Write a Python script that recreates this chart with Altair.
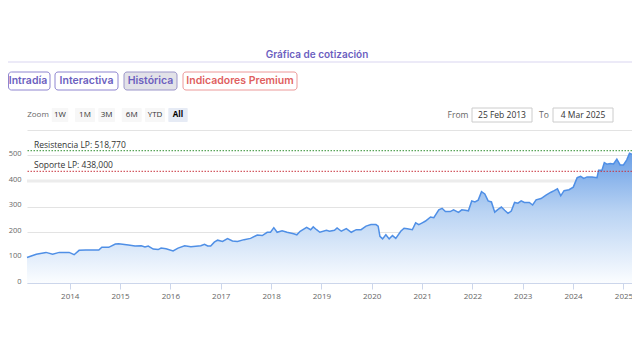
import altair as alt
import pandas as pd

# ---------------- data ----------------
dates = [
    "2013-02-25", "2013-05-03", "2013-07-13", "2013-08-30", "2013-10-17", "2013-12-28",
    "2014-02-02", "2014-03-10", "2014-04-27", "2014-07-31", "2014-08-22", "2014-10-11",
    "2014-11-28", "2014-12-22", "2015-03-03", "2015-04-20", "2015-06-04", "2015-07-01",
    "2015-07-25", "2015-08-30", "2015-10-05", "2015-10-26", "2015-12-01", "2016-01-21",
    "2016-02-26", "2016-04-14", "2016-05-29", "2016-08-09", "2016-09-05", "2016-09-28",
    "2016-10-20", "2016-11-15", "2016-12-09", "2017-01-14", "2017-02-19", "2017-03-27",
    "2017-05-02", "2017-06-19", "2017-08-05", "2017-09-23", "2017-10-29", "2017-12-04",
    "2017-12-28", "2018-01-21", "2018-02-14", "2018-03-22", "2018-04-27", "2018-06-14",
    "2018-07-07", "2018-07-31", "2018-09-16", "2018-10-15", "2018-11-03", "2018-11-27",
    "2018-12-21", "2019-02-07", "2019-03-01", "2019-04-06", "2019-04-25", "2019-05-26",
    "2019-07-01", "2019-08-06", "2019-09-11", "2019-10-16", "2019-11-21", "2019-12-27",
    "2020-02-01", "2020-02-17", "2020-03-01", "2020-03-20", "2020-04-13", "2020-05-07",
    "2020-05-31", "2020-06-24", "2020-07-30", "2020-08-23", "2020-09-16", "2020-10-22",
    "2020-11-15", "2020-12-08", "2021-01-02", "2021-01-26", "2021-03-03", "2021-03-27",
    "2021-05-02", "2021-05-26", "2021-06-19", "2021-07-24", "2021-08-17", "2021-09-22",
    "2021-10-16", "2021-11-09", "2021-12-03", "2021-12-27", "2022-01-19", "2022-02-12",
    "2022-03-08", "2022-04-01", "2022-04-25", "2022-05-19", "2022-06-12", "2022-07-06",
    "2022-07-30", "2022-08-23", "2022-09-16", "2022-10-10", "2022-11-03", "2022-11-27",
    "2022-12-21", "2023-01-13", "2023-02-18", "2023-03-14", "2023-04-08", "2023-05-14",
    "2023-06-19", "2023-07-25", "2023-08-17", "2023-09-10", "2023-10-04", "2023-10-28",
    "2023-12-03", "2024-01-03", "2024-01-31", "2024-02-25", "2024-03-19", "2024-04-12",
    "2024-05-18", "2024-06-23", "2024-07-05", "2024-07-29", "2024-08-15", "2024-09-03",
    "2024-09-27", "2024-10-21", "2024-11-14", "2024-12-08", "2025-01-01", "2025-01-25",
    "2025-02-14", "2025-03-04",
]
prices = [
    100, 113, 120, 113, 120, 120,
    111, 128, 129, 129, 140, 140,
    153, 154, 149, 145, 146, 141,
    145, 133, 131, 137, 134, 126,
    137, 146, 142, 146, 152, 145,
    145, 160, 168, 163, 174, 165,
    163, 170, 175, 188, 186, 199,
    199, 217, 199, 205, 199, 193,
    189, 203, 218, 209, 220, 209,
    199, 207, 203, 207, 216, 203,
    213, 199, 209, 209, 223, 229,
    229, 223, 183, 173, 189, 173,
    186, 175, 203, 215, 213, 209,
    236, 229, 236, 243, 259, 256,
    287, 293, 280, 280, 287, 277,
    287, 285, 283, 322, 318, 325,
    358, 349, 322, 318, 278, 289,
    298, 285, 273, 282, 316, 313,
    322, 316, 316, 306, 326, 331,
    345, 356, 362, 369, 342, 362,
    366, 376, 413, 418, 410, 416,
    416, 413, 442, 442, 472, 466,
    469, 467, 486, 463, 463, 483,
    509, 505,
]
year_ticks = list(range(2014, 2026))
y_ticks = [0, 100, 200, 300, 400, 500, 600]
resistance = 518.77
support = 438.0
resistance_label = "Resistencia LP: 518,770"
support_label = "Soporte LP: 438,000"
title_text = "Gráfica de cotización"
tabs = ["Intradía", "Interactiva", "Histórica", "Indicadores Premium"]
zoom_buttons = ["1W", "1M", "3M", "6M", "YTD", "All"]
from_text = "25 Feb 2013"
to_text = "4 Mar 2025"

df = pd.DataFrame({"date": dates, "price": prices})
one = pd.DataFrame({"k": [0]})

# ---------------- layout ----------------
W, H = 605, 153
PAD = {"left": 19, "top": 122, "right": 0, "bottom": 60}
UI_FONT = "Inter"
AX_FONT = "Open Sans"

x_scale = alt.Scale(
    type="utc",
    domain=[alt.DateTime(year=2013, month=2, date=25, utc=True),
            alt.DateTime(year=2025, month=3, date=4, utc=True)],
)
y_scale = alt.Scale(domain=[0, 600], nice=False, zero=True)

x_axis = alt.Axis(
    values=[alt.DateTime(year=y, month=1, date=1, utc=True) for y in year_ticks],
    format="%Y", grid=False, labelFlush=False, labelOverlap=False, labelFontSize=8,
    labelColor="#666666", labelFont=AX_FONT, domainColor="#ccd6eb",
    tickColor="#ccd6eb", tickSize=6, labelPadding=3, title=None,
)
y_axis = alt.Axis(
    values=y_ticks, labelExpr="datum.value >= 600 ? '' : datum.label",
    domain=False, ticks=False, grid=True, gridColor="#e3e3e3", labelFontSize=7.5,
    labelColor="#666666", labelFont=AX_FONT, labelPadding=6,
    labelBaseline="alphabetic", labelOverlap=False, title=None,
)

x_enc = alt.X("date:T", scale=x_scale, axis=x_axis)
y_enc = alt.Y("price:Q", scale=y_scale, axis=y_axis)


def y_at(v):
    return alt.Y(datum=v, type="quantitative", scale=y_scale, axis=y_axis)


gradient = alt.Gradient(
    gradient="linear",
    stops=[alt.GradientStop(color="#fbfdff", offset=0),
           alt.GradientStop(color="#b9d3f3", offset=0.55),
           alt.GradientStop(color="#6a9fe6", offset=1)],
    x1=1, x2=1, y1=1, y2=0,
)

area = alt.Chart(df).mark_area(color=gradient).encode(x=x_enc, y=y_enc)
line = alt.Chart(df).mark_line(color="#4f8fe6", strokeWidth=1.5).encode(x=x_enc, y=y_enc)

band400 = alt.Chart(one).mark_rule(color="#ececec", strokeWidth=3).encode(y=y_at(400))

res_rule = alt.Chart(one).mark_rule(color="#2f8f2f", strokeWidth=1, strokeDash=[1.5, 1.5]).encode(
    y=y_at(resistance))
sup_rule = alt.Chart(one).mark_rule(color="#c8323c", strokeWidth=1, strokeDash=[1.5, 1.5]).encode(
    y=y_at(support))
res_text = alt.Chart(one).mark_text(
    text=resistance_label, align="left", baseline="alphabetic", dy=-3,
    fontSize=8.5, color="#333333", font=AX_FONT).encode(x=alt.value(7), y=y_at(resistance))
sup_text = alt.Chart(one).mark_text(
    text=support_label, align="left", baseline="alphabetic", dy=-3,
    fontSize=8.5, color="#333333", font=AX_FONT).encode(x=alt.value(7), y=y_at(support))


def box(x0, x1, y0, y1, fill, stroke, r=3, sw=1):
    return alt.Chart(one).mark_rect(fill=fill, stroke=stroke, strokeWidth=sw, cornerRadius=r).encode(
        x=alt.value(x0), x2=alt.value(x1), y=alt.value(y0), y2=alt.value(y1))


def label(x, y, text, size=9, color="#333333", weight="normal", font=UI_FONT, align="center"):
    return alt.Chart(one).mark_text(
        text=text, fontSize=size, color=color, fontWeight=weight, font=font,
        align=align, baseline="middle").encode(x=alt.value(x), y=alt.value(y))


ui = []
# title and separator
ui.append(label(290, -75, title_text, size=10, color="#6c5fbf", weight=600))
ui.append(alt.Chart(one).mark_rule(color="#d9d5f0", strokeWidth=1).encode(
    x=alt.value(-19), x2=alt.value(W), y=alt.value(-68)))

# tabs
tab_geo = [(-18.5, 23, 1), (28, 91, 59.5), (97, 150, 123.5), (156, 270, 213)]
tab_fill = ["#ffffff", "#ffffff", "#e2e2e8", "#ffffff"]
tab_stroke = ["#8f86d0", "#8f86d0", "#9c96c9", "#ec9a9a"]
tab_color = ["#6c5fbf", "#6c5fbf", "#6c5fbf", "#e05f5f"]
for t, (x0, x1, cx), f, s, c in zip(tabs, tab_geo, tab_fill, tab_stroke, tab_color):
    ui.append(box(x0, x1, -58, -40, f, s, r=3))
    ui.append(label(cx, -49, t, size=10.5, color=c, weight=600))

# zoom row
ui.append(label(11, -15, "Zoom", size=8, color="#666666", font=AX_FONT))
zoom_geo = [(24.7, 41.3), (48, 68), (71.3, 88), (94.7, 114.7), (118, 138), (141.3, 160.7)]
for z, (x0, x1) in zip(zoom_buttons, zoom_geo):
    is_all = z == "All"
    ui.append(box(x0, x1, -22, -8, "#e6ebf5" if is_all else "#f7f7f7", "#ffffff", r=1, sw=0))
    ui.append(label((x0 + x1) / 2, -15, z, size=8, color="#000000" if is_all else "#333333",
                    weight="bold" if is_all else "normal", font=AX_FONT))

# from / to
ui.append(label(431, -15, "From", size=8.5, color="#666666", font=AX_FONT))
ui.append(box(445, 505, -22, -8, "#ffffff", "#cccccc", r=0))
ui.append(label(475, -15, from_text, size=8.5, color="#333333", font=AX_FONT))
ui.append(label(517, -15, "To", size=8.5, color="#666666", font=AX_FONT))
ui.append(box(526, 586, -22, -8, "#ffffff", "#cccccc", r=0))
ui.append(label(556, -15, to_text, size=8.5, color="#333333", font=AX_FONT))

chart = alt.layer(
    band400, area, line, res_rule, sup_rule, res_text, sup_text, *ui
).properties(
    width=W, height=H,
    padding=PAD,
    autosize=alt.AutoSizeParams(type="none"),
    background="#ffffff",
).configure_view(stroke=None)

chart.save("out.html", embed_options={"renderer": "svg", "actions": False})
